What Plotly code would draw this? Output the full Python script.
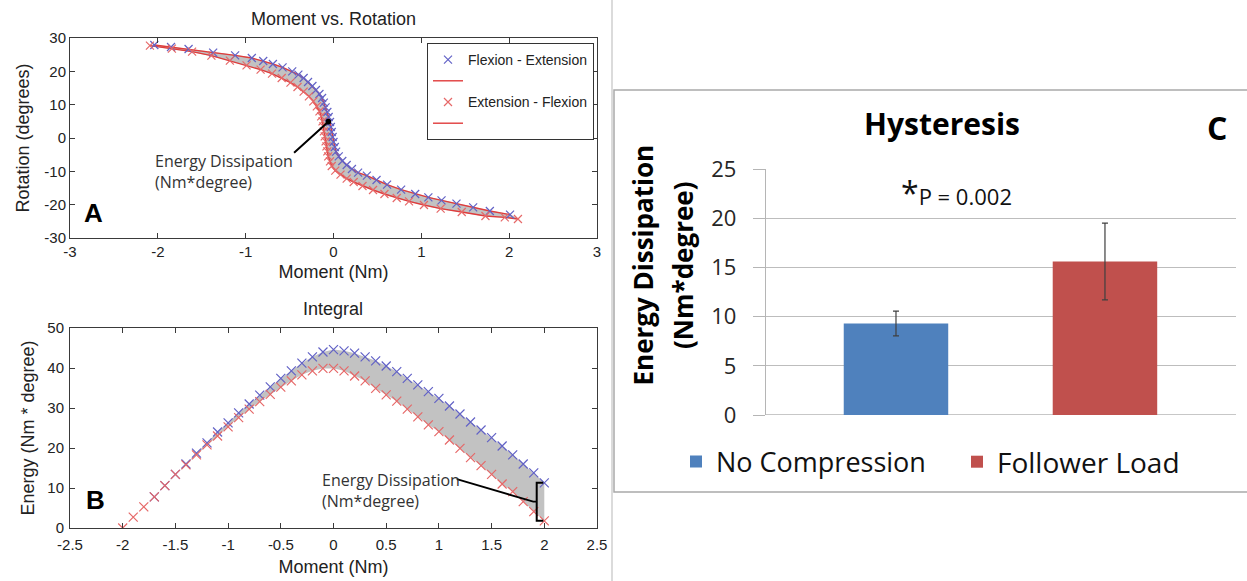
import plotly.graph_objects as go

W, H = 1247, 581

# ---------------- Panel A: Moment vs. Rotation ----------------
fe_moment = [-2.04, -1.85, -1.65, -1.37, -1.12, -0.93, -0.80, -0.69, -0.58, -0.47, -0.40, -0.34,
             -0.29, -0.24, -0.20, -0.16, -0.13, -0.11, -0.09, -0.07, -0.055, -0.04, -0.03, -0.02,
             -0.01, 0.00, 0.015, 0.03, 0.06, 0.10, 0.15, 0.21, 0.28, 0.38, 0.49, 0.61, 0.77, 0.93,
             1.08, 1.23, 1.40, 1.59, 1.78, 2.01]
fe_rotation = [27.9, 27.3, 26.7, 25.6, 24.8, 24.0, 23.1, 22.2, 21.2, 20.0, 19.0, 18.0,
               16.8, 15.6, 14.4, 13.2, 12.0, 10.6, 9.2, 7.8, 6.3, 4.8, 3.3, 1.8,
               0.3, -1.2, -2.7, -4.1, -5.5, -6.9, -8.1, -9.3, -10.4, -11.3, -12.6, -14.0, -15.5, -16.8,
               -17.8, -18.7, -19.7, -20.8, -21.9, -23.0]
ef_moment = [-2.09, -1.84, -1.61, -1.39, -1.18, -0.99, -0.83, -0.70, -0.59, -0.49, -0.41, -0.34,
             -0.28, -0.23, -0.19, -0.16, -0.14, -0.125, -0.115, -0.11, -0.10, -0.09, -0.08, -0.07,
             -0.06, -0.04, -0.02, 0.02, 0.08, 0.15, 0.23, 0.33, 0.45, 0.58, 0.72, 0.86, 1.03,
             1.22, 1.46, 1.73, 1.95, 2.10]
ef_rotation = [27.7, 26.8, 25.9, 24.7, 23.2, 21.8, 20.5, 19.3, 18.0, 16.6, 15.3, 13.9,
               12.5, 11.0, 9.5, 8.0, 6.5, 5.0, 3.5, 2.0, 0.5, -1.0, -2.5, -4.0,
               -5.5, -7.0, -8.4, -9.8, -11.0, -12.2, -13.2, -14.4, -15.6, -16.8, -18.0, -19.0, -20.1,
               -21.2, -22.2, -23.4, -23.8, -24.3]

a_xticks = [-3, -2, -1, 0, 1, 2, 3]
a_xticktext = ["-3", "-2", "-1", "0", "1", "2", "3"]
a_yticks = [-30, -20, -10, 0, 10, 20, 30]
a_yticktext = ["-30", "-20", "-10", "0", "10", "20", "30"]

# ---------------- Panel B: Integral ----------------
b_fe_moment = [-1.7, -1.6, -1.5, -1.4, -1.3, -1.2, -1.1, -1.0, -0.9, -0.8, -0.7, -0.6, -0.5,
               -0.4, -0.3, -0.2, -0.1, 0.0, 0.1, 0.2, 0.3, 0.4, 0.5, 0.6, 0.7, 0.8, 0.9, 1.0,
               1.1, 1.2, 1.3, 1.4, 1.5, 1.6, 1.7, 1.8, 1.9, 2.0]
b_fe_energy = [7.8, 10.6, 13.4, 16.0, 18.7, 21.3, 24.0, 26.3, 28.8, 31.0, 33.2, 35.3, 37.4,
               39.3, 41.2, 42.8, 44.0, 44.6, 44.3, 43.7, 42.8, 41.8, 40.5, 39.1, 37.4, 35.8, 34.1, 32.4,
               30.5, 28.5, 26.5, 24.5, 22.6, 20.5, 18.3, 16.0, 13.8, 11.3]
b_ef_moment = [-2.0, -1.9, -1.8, -1.7, -1.6, -1.5, -1.4, -1.3, -1.2, -1.1, -1.0, -0.9, -0.8,
               -0.7, -0.6, -0.5, -0.4, -0.3, -0.2, -0.1, 0.0, 0.1, 0.2, 0.3, 0.4, 0.5, 0.6, 0.7,
               0.8, 0.9, 1.0, 1.1, 1.2, 1.3, 1.4, 1.5, 1.6, 1.7, 1.8, 1.9, 2.0]
b_ef_energy = [0.0, 2.7, 5.3, 7.8, 10.6, 13.4, 15.8, 18.3, 20.8, 23.0, 25.3, 27.6, 29.7,
               31.6, 33.4, 35.2, 36.8, 38.3, 39.3, 39.9, 39.9, 39.3, 38.0, 36.8, 34.9, 33.3, 31.7, 29.7,
               27.8, 25.8, 24.1, 22.0, 19.9, 17.6, 15.6, 13.4, 11.0, 9.1, 6.6, 4.1, 1.8]

b_xticks = [-2.5, -2, -1.5, -1, -0.5, 0, 0.5, 1, 1.5, 2, 2.5]
b_xticktext = ["-2.5", "-2", "-1.5", "-1", "-0.5", "0", "0.5", "1", "1.5", "2", "2.5"]
b_yticks = [0, 10, 20, 30, 40, 50]

# ---------------- Panel C: Hysteresis ----------------
c_categories = ["No Compression", "Follower Load"]
c_values = [9.3, 15.6]
c_errors = [1.25, 3.9]
c_colors = ["#4f81bd", "#c0504d"]
c_yticks = [0, 5, 10, 15, 20, 25]

BLUE_M = "#6262c6"
RED_M = "#e66868"
RED_L = "#e03c3c"
FILL = "#c2c2c2"
ARIAL = "Liberation Sans, Arial, sans-serif"
CALI = "Open Sans, Noto Sans, sans-serif"


def px(x):
    return x / W


def py(y):
    return 1 - y / H


fig = go.Figure()

# ---- Panel A traces
fig.add_trace(go.Scatter(
    x=fe_moment + ef_moment[::-1], y=fe_rotation + ef_rotation[::-1],
    fill="toself", fillcolor=FILL, mode="lines", line=dict(width=0.5, color="#9a9a9a"),
    showlegend=False, hoverinfo="skip", xaxis="x", yaxis="y"))
fig.add_trace(go.Scatter(
    x=fe_moment, y=fe_rotation, mode="lines", line=dict(color=RED_L, width=1.4),
    name=" ", legend="legend", legendrank=2, xaxis="x", yaxis="y"))
fig.add_trace(go.Scatter(
    x=ef_moment, y=ef_rotation, mode="lines", line=dict(color=RED_L, width=1.4),
    name="  ", legend="legend", legendrank=4, xaxis="x", yaxis="y"))
fig.add_trace(go.Scatter(
    x=fe_moment, y=fe_rotation, mode="markers",
    marker=dict(symbol="x-thin", size=8, color=BLUE_M, line=dict(color=BLUE_M, width=1.2)),
    name="Flexion - Extension", legend="legend", legendrank=1, xaxis="x", yaxis="y"))
fig.add_trace(go.Scatter(
    x=ef_moment, y=ef_rotation, mode="markers",
    marker=dict(symbol="x-thin", size=8, color=RED_M, line=dict(color=RED_M, width=1.2)),
    name="Extension - Flexion", legend="legend", legendrank=3, xaxis="x", yaxis="y"))

# ---- Panel B traces
b_ef_on_fe = [(m, e) for m, e in zip(b_ef_moment, b_ef_energy) if m >= b_fe_moment[0]]
fig.add_trace(go.Scatter(
    x=b_fe_moment + [m for m, _ in b_ef_on_fe][::-1],
    y=b_fe_energy + [e for _, e in b_ef_on_fe][::-1],
    fill="toself", fillcolor=FILL, mode="lines", line=dict(width=0),
    showlegend=False, hoverinfo="skip", xaxis="x2", yaxis="y2"))
fig.add_trace(go.Scatter(
    x=b_fe_moment, y=b_fe_energy, mode="markers",
    marker=dict(symbol="x-thin", size=9, color=BLUE_M, line=dict(color=BLUE_M, width=1.2)),
    showlegend=False, name="Flexion - Extension", xaxis="x2", yaxis="y2"))
fig.add_trace(go.Scatter(
    x=b_ef_moment, y=b_ef_energy, mode="markers",
    marker=dict(symbol="x-thin", size=9, color=RED_M, line=dict(color=RED_M, width=1.2)),
    showlegend=False, name="Extension - Flexion", xaxis="x2", yaxis="y2"))

# ---- Panel C traces
for i, (cat, val, err, col) in enumerate(zip(c_categories, c_values, c_errors, c_colors)):
    fig.add_trace(go.Bar(
        x=[cat], y=[val], width=0.5, marker=dict(color=col, line=dict(width=0)),
        error_y=dict(type="data", array=[err], color="#404040", thickness=1.2, width=3),
        name=cat, legend="legend2" if i == 0 else "legend3",
        xaxis="x3", yaxis="y3"))

axA = dict(showline=True, linecolor="#3a3a3a", linewidth=1, mirror="ticks", ticks="inside",
           ticklen=5, tickcolor="#3a3a3a", showgrid=False, zeroline=False, automargin=False,
           tickfont=dict(family=ARIAL, size=15, color="#222"))

fig.update_layout(
    width=W, height=H, autosize=False,
    margin=dict(l=0, r=0, t=0, b=0, pad=0, autoexpand=False),
    paper_bgcolor="white", plot_bgcolor="white",
    barmode="overlay",
    xaxis=dict(axA, domain=[px(70), px(597)], range=[-3, 3], tickvals=a_xticks,
               ticktext=a_xticktext, anchor="y",
               title=dict(text="Moment (Nm)", font=dict(family=ARIAL, size=18, color="#222"), standoff=6)),
    yaxis=dict(axA, domain=[py(238), py(38)], range=[-30, 30], tickvals=a_yticks,
               ticktext=a_yticktext, anchor="x",
               title=dict(text="Rotation (degrees)", font=dict(family=ARIAL, size=18, color="#222"), standoff=10)),
    xaxis2=dict(axA, domain=[px(70), px(597)], range=[-2.5, 2.5], tickvals=b_xticks,
                ticktext=b_xticktext, anchor="y2", ticklabelstandoff=3,
                title=dict(text="Moment (Nm)", font=dict(family=ARIAL, size=18, color="#222"), standoff=8)),
    yaxis2=dict(axA, domain=[py(528), py(328)], range=[0, 50], tickvals=b_yticks, anchor="x2",
                ticklabelstandoff=2,
                title=dict(text="Energy (Nm * degree)", font=dict(family=ARIAL, size=18, color="#222"), standoff=8)),
    xaxis3=dict(domain=[px(766), px(1236)], range=[-0.622, 1.627], anchor="y3", automargin=False,
                type="category", categoryorder="array", categoryarray=c_categories,
                showticklabels=False, showgrid=False, zeroline=False, showline=False, ticks=""),
    yaxis3=dict(domain=[py(415), py(169)], range=[0, 25], tickvals=c_yticks, anchor="x3",
                automargin=False,
                showgrid=True, gridcolor="#bdbdbd", gridwidth=1.3, zeroline=False,
                showline=True, linecolor="#b5b5b5", linewidth=1.3,
                ticks="outside", ticklen=12, tickcolor="#b5b5b5", ticklabelstandoff=12,
                tickfont=dict(family=CALI, size=22, color="#262626")),
    legend=dict(x=px(594), xanchor="right", y=py(43), yanchor="top",
                bgcolor="white", bordercolor="#333", borderwidth=1,
                font=dict(family=ARIAL, size=14, color="#222"), tracegroupgap=0, itemwidth=30),
    legend2=dict(x=px(676), xanchor="left", y=py(462), yanchor="middle",
                 bgcolor="rgba(0,0,0,0)", borderwidth=0,
                 font=dict(family=CALI, size=27, color="#111")),
    legend3=dict(x=px(957), xanchor="left", y=py(462), yanchor="middle",
                 bgcolor="rgba(0,0,0,0)", borderwidth=0,
                 font=dict(family=CALI, size=28, color="#111")),
)

# gridline at zero for panel C (category axis baseline)
fig.add_shape(type="line", xref="x3 domain", yref="y3", x0=0, x1=1, y0=0, y1=0,
              line=dict(color="#b5b5b5", width=1.3), layer="below")

# frames around panel C
fig.add_shape(type="line", xref="paper", yref="paper", x0=px(612), x1=px(612), y0=0, y1=1,
              line=dict(color="#cfcfcf", width=1.5))
fig.add_shape(type="rect", xref="paper", yref="paper", x0=px(614), x1=1.01, y0=py(492), y1=py(90),
              line=dict(color="#a9a9a9", width=1.5))

# Panel B bracket and leader line (anchored on the end values of both curves)
top_e = b_fe_energy[-1]
bot_e = b_ef_energy[-1]
mid_e = 6.6
fig.add_shape(type="path", xref="x2", yref="y2",
              path=f"M 1.99,{top_e} L 1.928,{top_e} L 1.928,{bot_e} L 1.99,{bot_e}",
              line=dict(color="black", width=2))
fig.add_shape(type="path", xref="x2", yref="y2",
              path=f"M 1.17,12.2 L 1.895,{mid_e} L 1.928,{mid_e}",
              line=dict(color="black", width=1.8))

C = dict(xanchor="center", yanchor="middle", showarrow=False)
ann = []
# titles panels A/B
ann.append(dict(C, text="Moment vs. Rotation", x=px(333.5), y=py(19), xref="paper", yref="paper",
                font=dict(family=ARIAL, size=18, color="#222")))
ann.append(dict(C, text="Integral", x=px(333.5), y=py(309), xref="paper", yref="paper",
                font=dict(family=ARIAL, size=18, color="#222")))
# panel letters
ann.append(dict(C, text="<b>A</b>", x=-2.735, y=-22.5, xref="x", yref="y",
                font=dict(family=ARIAL, size=26, color="black")))
ann.append(dict(C, text="<b>B</b>", x=-2.26, y=7, xref="x2", yref="y2",
                font=dict(family=ARIAL, size=26, color="black")))
# energy dissipation callouts
ann.append(dict(text="Energy Dissipation<br>(Nm*degree)", x=-2.06, y=-10.0, xref="x", yref="y",
                xanchor="left", yanchor="middle", align="left", showarrow=False,
                font=dict(family=CALI, size=16, color="#333")))
ann.append(dict(text="", x=-0.059, y=4.9, ax=-0.466, ay=-4.8, xref="x", yref="y",
                axref="x", ayref="y", showarrow=True, arrowhead=6, arrowsize=0.7,
                arrowwidth=2, arrowcolor="black", standoff=0))
ann.append(dict(text="Energy Dissipation<br>(Nm*degree)", x=-0.13, y=9.4, xref="x2", yref="y2",
                xanchor="left", yanchor="middle", align="left", showarrow=False,
                font=dict(family=CALI, size=16, color="#333")))
# panel C texts
ann.append(dict(C, text="<b>Hysteresis</b>", x=px(942), y=py(123), xref="paper", yref="paper",
                font=dict(family=CALI, size=30, color="black")))
ann.append(dict(C, text="<b>C</b>", x=px(1217), y=py(128), xref="paper", yref="paper",
                font=dict(family=CALI, size=32, color="black")))
ann.append(dict(text="<span style='font-size:32px'>*</span>P = 0.002", x=px(899), y=py(192),
                xref="paper", yref="paper", xanchor="left", yanchor="middle", showarrow=False,
                font=dict(family=CALI, size=22, color="#111")))
ann.append(dict(C, text="<b>Energy Dissipation</b>", x=px(642.5), y=py(265), xref="paper", yref="paper",
                textangle=-90, font=dict(family=CALI, size=26, color="black")))
ann.append(dict(C, text="<b>(Nm*degree)</b>", x=px(683), y=py(265), xref="paper", yref="paper",
                textangle=-90, font=dict(family=CALI, size=26, color="black")))

fig.update_layout(annotations=ann)

fig.write_html("out.html")
